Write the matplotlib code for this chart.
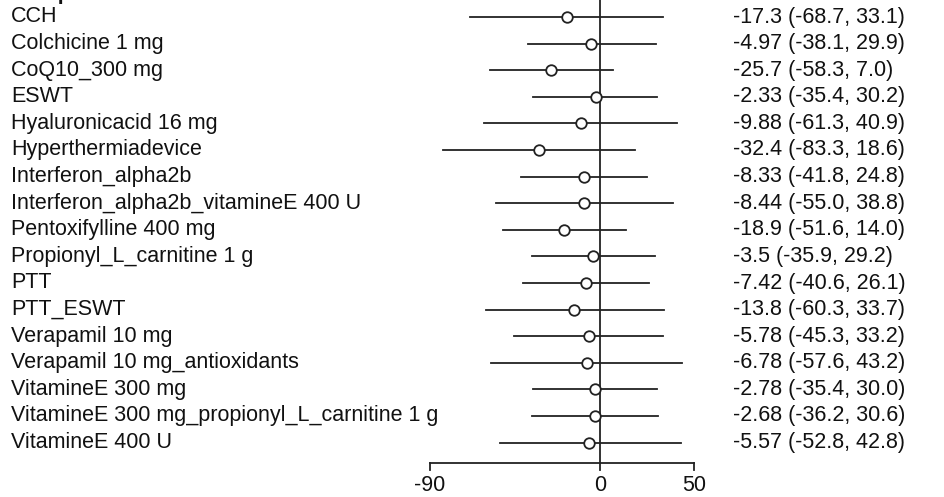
import matplotlib
matplotlib.use("Agg")
import matplotlib.pyplot as plt
import matplotlib.transforms as mtransforms

plt.rcParams['font.family'] = ['Liberation Sans', 'DejaVu Sans']

treatments = ["CCH", "Colchicine 1 mg", "CoQ10_300 mg", "ESWT", "Hyaluronicacid 16 mg",
              "Hyperthermiadevice", "Interferon_alpha2b", "Interferon_alpha2b_vitamineE 400 U",
              "Pentoxifylline 400 mg", "Propionyl_L_carnitine 1 g", "PTT", "PTT_ESWT",
              "Verapamil 10 mg", "Verapamil 10 mg_antioxidants", "VitamineE 300 mg",
              "VitamineE 300 mg_propionyl_L_carnitine 1 g", "VitamineE 400 U"]
est = [-17.3, -4.97, -25.7, -2.33, -9.88, -32.4, -8.33, -8.44, -18.9, -3.5, -7.42, -13.8,
       -5.78, -6.78, -2.78, -2.68, -5.57]
lower = [-68.7, -38.1, -58.3, -35.4, -61.3, -83.3, -41.8, -55.0, -51.6, -35.9, -40.6, -60.3,
         -45.3, -57.6, -35.4, -36.2, -52.8]
upper = [33.1, 29.9, 7.0, 30.2, 40.9, 18.6, 24.8, 38.8, 14.0, 29.2, 26.1, 33.7, 33.2, 43.2,
         30.0, 30.6, 42.8]
ci_text = ["-17.3 (-68.7, 33.1)", "-4.97 (-38.1, 29.9)", "-25.7 (-58.3, 7.0)",
           "-2.33 (-35.4, 30.2)", "-9.88 (-61.3, 40.9)", "-32.4 (-83.3, 18.6)",
           "-8.33 (-41.8, 24.8)", "-8.44 (-55.0, 38.8)", "-18.9 (-51.6, 14.0)",
           "-3.5 (-35.9, 29.2)", "-7.42 (-40.6, 26.1)", "-13.8 (-60.3, 33.7)",
           "-5.78 (-45.3, 33.2)", "-6.78 (-57.6, 43.2)", "-2.78 (-35.4, 30.0)",
           "-2.68 (-36.2, 30.6)", "-5.57 (-52.8, 42.8)"]
xticks = [-90, 0, 50]

col = '#222222'
fs = 15.5
fig = plt.figure(figsize=(9.44, 4.97), dpi=100)
ax = fig.add_axes([0, 0, 1, 1])
ax.axis('off')

# pixel x = 600 + 1.889*v ; row i at pixel 17 + 26.6*i
sc = 170 / 90
ax.set_xlim(-600 / sc, (944 - 600) / sc)
ax.set_ylim((497 - 17) / 26.6, -17 / 26.6)

n = len(treatments)
axis_y = (463 - 17) / 26.6
tr = mtransforms.blended_transform_factory(ax.transAxes, ax.transData)

ax.plot([0, 0], [-1, axis_y], color=col, lw=1.3, clip_on=False)
for i in range(n):
    ax.plot([lower[i], upper[i]], [i, i], color=col, lw=1.3)
    ax.plot(est[i], i, 'o', ms=7.6, mfc='white', mec=col, mew=1.3, zorder=3)
    ax.text(11 / 944, i, treatments[i], transform=tr, va='center', ha='left',
            fontsize=fs, color='#111111')
    ax.text(733 / 944, i, ci_text[i], transform=tr, va='center', ha='left',
            fontsize=fs, color='#111111')

# header, mostly cut off at the top
ax.text(10 / 944, -18.5 / 26.6, "Comparison: other vs 'Placebo'", transform=tr,
        va='baseline', ha='left', fontsize=fs, fontweight='bold', color='#111111')

# x axis
ax.plot([xticks[0], xticks[-1]], [axis_y, axis_y], color=col, lw=1.3)
tick_len = 7 / 26.6
for t in xticks:
    ax.plot([t, t], [axis_y, axis_y + tick_len], color=col, lw=1.3)
    ax.text(t, (486 - 17) / 26.6, str(t), ha='center', va='center', fontsize=fs,
            color='#111111')

fig.savefig('out.png', dpi=100)
